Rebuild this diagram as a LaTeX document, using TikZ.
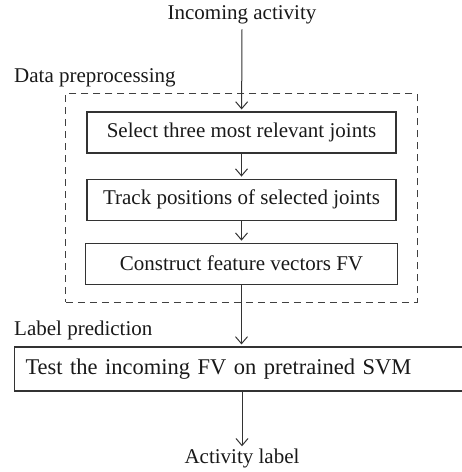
\documentclass[tikz,border=0pt]{standalone}
\usepackage{fontspec}
\setmainfont{Liberation Serif}
\usepackage{tikz}
\usetikzlibrary{arrows.meta, positioning, fit}

\begin{document}
\begin{tikzpicture}[
    x=1pt, y=-1pt,
    every node/.style={font=\fontsize{21}{25}\selectfont, text=black!90},
    box/.style={rectangle, draw=black!80, line width=1.1pt, minimum width=309pt, minimum height=41pt, align=center},
    label/.style={inner sep=0pt},
    group/.style={rectangle, draw=black!75, line width=1pt, dash pattern=on 7pt off 5pt},
    arrow/.style={-{Straight Barb[length=7pt, width=12pt]}, line width=1pt, draw=black!80, shorten >=2pt}
]
\clip (0,0) rectangle (462,472);

\node[label] (in) at (242,15) {Incoming activity};

\node[box] (sel) at (241.5,132.5) {Select three most relevant joints};
\node[box, below=25pt of sel] (trk) {Track positions of selected joints};
\node[box, below=22pt of trk, minimum width=312pt] (fv) {Construct feature vectors FV};

\node[group, fit=(sel)(trk)(fv), inner xsep=19pt, inner ysep=17.5pt] (prep) {};
\node[label, anchor=south west] at (14,87) (prepl) {Data preprocessing};

\node[label, anchor=south west] at (14,340) (predl) {Label prediction};
\node[box, anchor=west, minimum height=44pt, text width=440pt, inner xsep=11pt, align=left,
      font=\fontsize{22.5}{26}\selectfont] at (14,369) (test) {Test the incoming FV on pretrained SVM};

\node[label] (out) at (242,458) {Activity label};

\draw[arrow] ([yshift=-5pt]in.south) -- (sel);
\draw[arrow] (sel) -- (trk);
\draw[arrow] (trk) -- (fv);
\draw[arrow] (fv) -- (fv |- test.north);
\draw[arrow] (test.south -| out) -- (out);

\end{tikzpicture}
\end{document}
